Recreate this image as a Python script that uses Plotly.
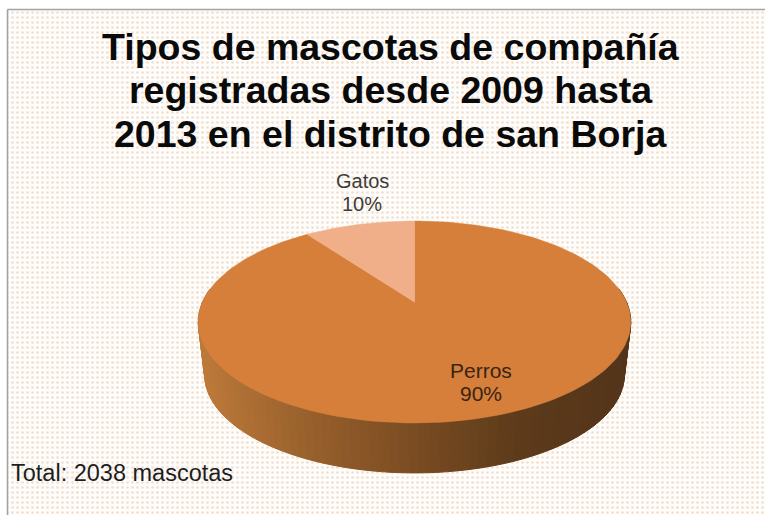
import numpy as np
import plotly.graph_objects as go

# ---- data ----
categories = ["Perros", "Gatos"]
percentages = [90, 10]
total_pets = 2038
title_lines = [
    "Tipos de mascotas de compañía",
    "registradas desde 2009 hasta",
    "2013 en el distrito de san Borja",
]

# ---- style / projection ----
W, H = 765, 515
SLICE_COLORS = {"Perros": "#D57F3B", "Gatos": "#F1AF89"}
CX, CY = 414.5, 302.0       # screen position of the pie's centre
A, B, K = 212.0, 97.0, 0.198  # perspective projection of the disc
DEPTH, SHRINK = 53.6, 0.97  # thickness of the 3D pie
SIDE_STOPS = [(0.0, (190, 122, 58)), (0.25, (152, 96, 44)), (0.5, (122, 76, 34)),
              (0.75, (92, 58, 26)), (1.0, (84, 52, 26))]


def project(theta, scale=1.0, dy=0.0):
    w = 1 + K * np.cos(theta)
    return CX + scale * A * np.sin(theta) / w, CY + dy - scale * B * np.cos(theta) / w


def side_color(t):
    ts = [s[0] for s in SIDE_STOPS]
    rgb = [np.interp(t, ts, [s[1][i] for s in SIDE_STOPS]) for i in range(3)]
    return "rgb(%d,%d,%d)" % tuple(int(round(v)) for v in rgb)


fig = go.Figure()

# panel background with dotted pattern and grey frame
fig.add_trace(go.Scatter(
    x=[7.5, W + 5, W + 5, 7.5, 7.5], y=[9.5, 9.5, H + 5, H + 5, 9.5],
    mode="lines", fill="toself",
    line=dict(color="#A3A3A3", width=1.6),
    fillcolor="#FFFDFB",
    fillpattern=dict(shape=".", size=5, solidity=0.22, fgcolor="#F0DFCD",
                     bgcolor="#FFFDFB", fillmode="replace"),
    hoverinfo="skip", showlegend=False,
))

# side wall, thin shaded strips from left to right along the front
edges = np.linspace(np.radians(278), np.radians(82), 90)
for a0, a1 in zip(edges[:-1], edges[1:]):
    th = np.array([a0, a1])
    xt, yt = project(th)
    xb, yb = project(th, SHRINK, DEPTH)
    t = (np.mean(xt) - (CX - 216)) / 432
    c = side_color(t)
    fig.add_trace(go.Scatter(
        x=[xt[0], xt[1], xb[1], xb[0], xt[0]], y=[yt[0], yt[1], yb[1], yb[0], yt[0]],
        mode="lines", fill="toself", fillcolor=c, line=dict(color=c, width=1),
        hoverinfo="skip", showlegend=False,
    ))

# top face: one wedge per category, angles taken from the values
start = 0.0
for name, value in zip(categories, percentages):
    sweep = value / sum(percentages) * 2 * np.pi
    th = np.linspace(start, start + sweep, 200)
    xr, yr = project(th)
    fig.add_trace(go.Scatter(
        x=np.r_[CX, xr, CX], y=np.r_[CY, yr, CY],
        mode="lines", fill="toself", fillcolor=SLICE_COLORS[name],
        line=dict(color=SLICE_COLORS[name], width=0.5),
        name=name, hoverinfo="skip", showlegend=False,
    ))
    start += sweep

annotations = []
for line, y in zip(title_lines, [47, 90, 134]):
    annotations.append(dict(x=390.5, y=y, text=line, showarrow=False, xanchor="center",
                            yanchor="middle",
                            font=dict(family="Liberation Sans", size=37.5, color="#0A0A0A", weight="bold")))
label_pos = {"Gatos": (362, 181, 204, 20, "#3C3C3C"), "Perros": (481, 370, 393, 21, "#3A2412")}
for name, value in zip(categories, percentages):
    x, y1, y2, size, col = label_pos[name]
    for text, y in ((name, y1), (f"{value}%", y2)):
        annotations.append(dict(x=x, y=y, text=text, showarrow=False,
                                xanchor="center", yanchor="middle",
                                font=dict(family="Liberation Sans", size=size, color=col)))
annotations.append(dict(x=9, y=473, text=f"Total: {total_pets} mascotas", showarrow=False,
                        xanchor="left", yanchor="middle",
                        font=dict(family="Liberation Sans", size=23.5, color="#1E1E1E")))

fig.update_layout(
    width=W, height=H, margin=dict(l=0, r=0, t=0, b=0),
    paper_bgcolor="white", plot_bgcolor="white", showlegend=False,
    xaxis=dict(range=[0, W], visible=False, fixedrange=True),
    yaxis=dict(range=[H, 0], visible=False, fixedrange=True),
    annotations=annotations,
)
fig.write_html("out.html", config=dict(displayModeBar=False),
               post_script="document.body.style.margin='0';")
